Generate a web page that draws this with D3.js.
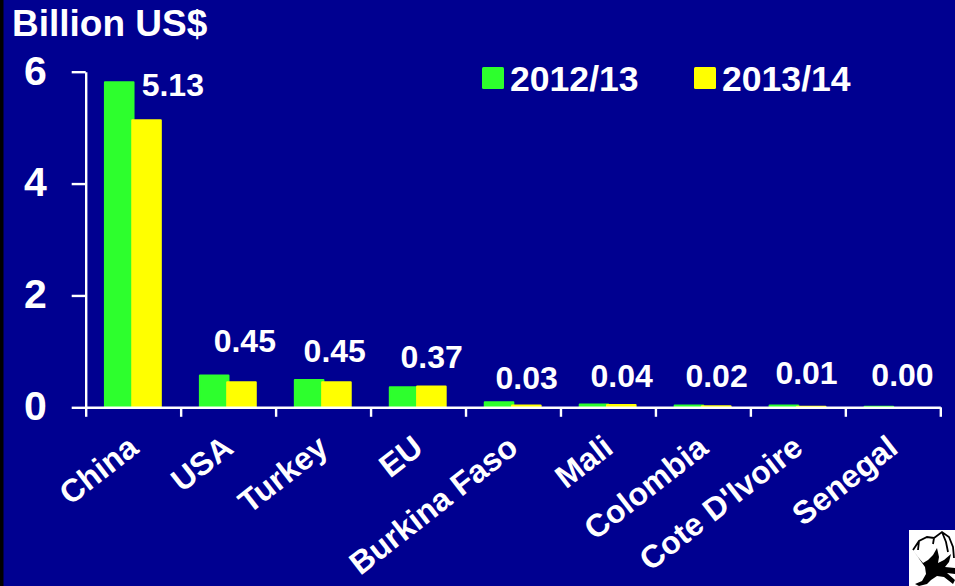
<!DOCTYPE html>
<html>
<head>
<meta charset="utf-8">
<script src="https://cdn.jsdelivr.net/npm/d3@7"></script>
<style>
  html, body { margin: 0; padding: 0; background: #000090; overflow: hidden; }
  svg { display: block; }
  text { font-family: "Liberation Sans", Arial, sans-serif; font-weight: bold; fill: #fff; }
  .domain, .tick line { stroke: #fff; stroke-width: 2.4px; }
</style>
</head>
<body>
<div id="chart"></div>
<script>
const categories = ["China", "USA", "Turkey", "EU", "Burkina Faso", "Mali", "Colombia", "Cote D'Ivoire", "Senegal"];
const years = ["2012/13", "2013/14"];
const values2012 = [5.81, 0.57, 0.49, 0.36, 0.09, 0.05, 0.03, 0.03, 0.01];
const values2013 = [5.13, 0.45, 0.45, 0.37, 0.03, 0.04, 0.02, 0.01, 0.00];
const yTicks = [0, 2, 4, 6];

// hand placed value labels, relative to the top of the yellow bar
const labelDx = [26, 3, -2, 0, 0, 0, 0, -5, -4];
const labelDy = [-24, -30, -20, -19, -17, -18, -19, -23, -21];

const width = 955, height = 586;
const plotLeft = 85.7, plotRight = 940.3, plotTop = 71.7, plotBottom = 407.3;
const colors = { "2012/13": "#2dff2d", "2013/14": "#ffff00" };

const svg = d3.select("#chart").append("svg")
  .attr("width", width)
  .attr("height", height);

svg.append("rect").attr("width", width).attr("height", height).attr("fill", "#000090");
svg.append("rect").attr("width", 3.5).attr("height", height).attr("fill", "#000");

const x = d3.scaleBand().domain(categories).range([plotLeft, plotRight]);
const xEdges = d3.scaleLinear().domain([0, categories.length]).range([plotLeft, plotRight]);
const y = d3.scaleLinear().domain([0, 6]).range([plotBottom, plotTop]);

const barWidth = 28.6, barStep = 27.3;

// green first, yellow overlaps it
[values2012, values2013].forEach((vals, s) => {
  svg.append("g").selectAll("rect")
    .data(vals)
    .enter().append("rect")
    .attr("x", (d, i) => x(categories[i]) + x.bandwidth() / 2 - barStep / 2 - barWidth / 2 + s * barStep - 0.3)
    .attr("y", d => y(d))
    .attr("width", barWidth)
    .attr("height", d => plotBottom - y(d))
    .attr("fill", colors[years[s]])
    .attr("stroke", colors[years[s]])
    .attr("stroke-width", 2)
    .attr("stroke-linejoin", "round");
});

// y axis
svg.append("g")
  .attr("transform", `translate(${plotLeft},0)`)
  .call(d3.axisLeft(y).tickValues(yTicks).tickSize(14).tickSizeOuter(0).tickPadding(25).tickFormat(d3.format("d")))
  .call(g => g.selectAll("text").attr("font-size", 41).attr("dy", "0.3em"));

// x axis, ticks sit between the categories
svg.append("g")
  .attr("transform", `translate(0,${plotBottom})`)
  .call(d3.axisBottom(xEdges).ticks(categories.length).tickSize(9.5).tickSizeOuter(0).tickFormat(""));

// slanted category names
svg.append("g").selectAll("text")
  .data(categories)
  .enter().append("text")
  .attr("text-anchor", "end")
  .attr("font-size", 32)
  .attr("transform", d => `translate(${x(d) + x.bandwidth() / 2 + 7},${plotBottom + 44}) rotate(-38)`)
  .text(d => d);

// value labels
svg.append("g").selectAll("text")
  .data(values2013)
  .enter().append("text")
  .attr("text-anchor", "middle")
  .attr("font-size", 32)
  .attr("x", (d, i) => x(categories[i]) + x.bandwidth() / 2 + barStep / 2 + labelDx[i])
  .attr("y", (d, i) => y(d) + labelDy[i])
  .text(d => d.toFixed(2));

svg.append("text")
  .attr("x", 12)
  .attr("y", 36)
  .attr("font-size", 37)
  .text("Billion US$");

// legend
const legendX = d3.scalePoint().domain(years).range([482, 694]);
const legend = svg.append("g").selectAll("g")
  .data(years)
  .enter().append("g")
  .attr("transform", d => `translate(${legendX(d)},67)`);

legend.append("rect")
  .attr("width", 22)
  .attr("height", 22)
  .attr("rx", 1.5)
  .attr("fill", d => colors[d]);

legend.append("text")
  .attr("x", 28)
  .attr("y", 24)
  .attr("font-size", 35.6)
  .text(d => d);

// cotton boll emblem in the corner
const logo = svg.append("g").attr("transform", "translate(909,530)");
logo.append("rect").attr("width", 46).attr("height", 56).attr("fill", "#fff");
logo.append("path")
  .attr("d", "M4 20 L10 11 L18 7 L25 8 L33 2 L40 7 L44 17 L45 28 M25 8 L24 14 M33 2 L37 12 L39 22 M10 11 L9 20")
  .attr("fill", "none")
  .attr("stroke", "#000")
  .attr("stroke-width", 1.8);
logo.append("path")
  .attr("d", "M4 20 L9 27 L14 33 L19 30 L24 25 L28 18 L30 27 L29 33 L35 30 L42 24 L40 32 L36 37 L46 38 L46 44 L38 43 L46 50 L44 54 L35 47 L28 46 L22 50 L18 54 L10 56 L6 54 L13 51 L17 44 L16 37 L11 30 Z")
  .attr("fill", "#000");
</script>
</body>
</html>
